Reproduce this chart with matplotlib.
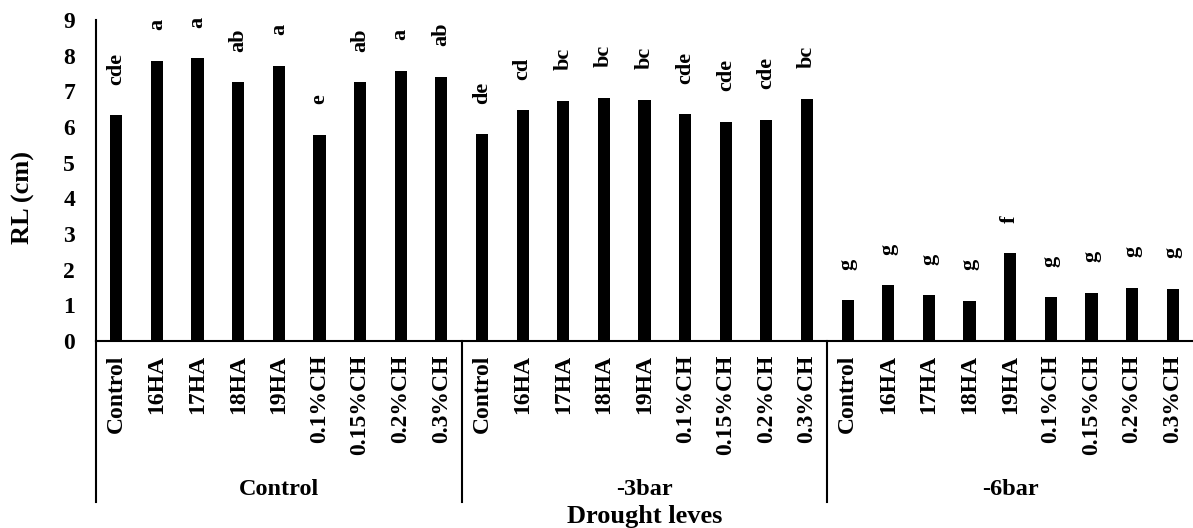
import matplotlib
matplotlib.use("Agg")
import matplotlib.pyplot as plt
import matplotlib.transforms as mtransforms

treatments = ["Control", "16HA", "17HA", "18HA", "19HA",
              "0.1%CH", "0.15%CH", "0.2%CH", "0.3%CH"]
groups = ["Control", "-3bar", "-6bar"]

values_control = [6.33, 7.85, 7.93, 7.25, 7.71, 5.78, 7.26, 7.58, 7.41]
values_3bar = [5.80, 6.47, 6.73, 6.82, 6.77, 6.36, 6.15, 6.21, 6.79]
values_6bar = [1.14, 1.56, 1.28, 1.12, 2.46, 1.23, 1.35, 1.49, 1.46]

letters_control = ["cde", "a", "a", "ab", "a", "e", "ab", "a", "ab"]
letters_3bar = ["de", "cd", "bc", "bc", "bc", "cde", "cde", "cde", "bc"]
letters_6bar = ["g", "g", "g", "g", "f", "g", "g", "g", "g"]

yticks = list(range(0, 10))

values = values_control + values_3bar + values_6bar
letters = letters_control + letters_3bar + letters_6bar
labels = treatments * 3
xs = list(range(len(values)))

plt.rcParams['font.family'] = ['Liberation Serif', 'DejaVu Serif']
plt.rcParams['font.weight'] = 'bold'

W, H = 1193, 528
fig = plt.figure(figsize=(W / 100, H / 100), dpi=100)
ax_left, ax_right, ax_top, ax_bottom = 96, 1193, 20, 341
ax = fig.add_axes([ax_left / W, (H - ax_bottom) / H,
                   (ax_right - ax_left) / W, (ax_bottom - ax_top) / H])

ax.bar(xs, values, width=0.3, color='black')
ax.set_xlim(-0.5, len(values) - 0.5)
ax.set_ylim(0, 9)
ax.set_yticks(yticks)
ax.set_yticklabels([str(t) for t in yticks], fontsize=17, fontweight='bold')
ax.tick_params(axis='y', length=0, pad=15)
ax.set_xticks(xs)
ax.set_xticklabels(labels, rotation=90, fontsize=17, fontweight='bold')
ax.tick_params(axis='x', length=0, pad=10)

for s in ['top', 'right']:
    ax.spines[s].set_visible(False)
for s in ['left', 'bottom']:
    ax.spines[s].set_linewidth(1.5)

for x, v, l in zip(xs, values, letters):
    ax.annotate(l, (x, v), xytext=(0, 22), textcoords='offset points',
                rotation=90, ha='center', va='bottom', fontsize=16,
                fontweight='bold')

trans = mtransforms.blended_transform_factory(ax.transData, ax.transAxes)
axh = ax_bottom - ax_top
ybot = -(502 - ax_bottom) / axh
for xsep in [-0.5, 8.5, 17.5]:
    ax.plot([xsep, xsep], [0, ybot], color='black', lw=1.5,
            transform=trans, clip_on=False)

ylab = -(495 - ax_bottom) / axh
for i, g in enumerate(groups):
    ax.text(i * 9 + 4, ylab, g, transform=trans, ha='center', va='baseline',
            fontsize=17.5, fontweight='bold')

fig.text((ax_left + ax_right) / 2 / W, (H - 523) / H, "Drought leves",
         ha='center', va='baseline', fontsize=19, fontweight='bold')
fig.text(23 / W, (H - 198) / H, "RL (cm)", rotation=90, ha='center',
         va='center', fontsize=19, fontweight='bold')

fig.savefig("out.png", dpi=100)
